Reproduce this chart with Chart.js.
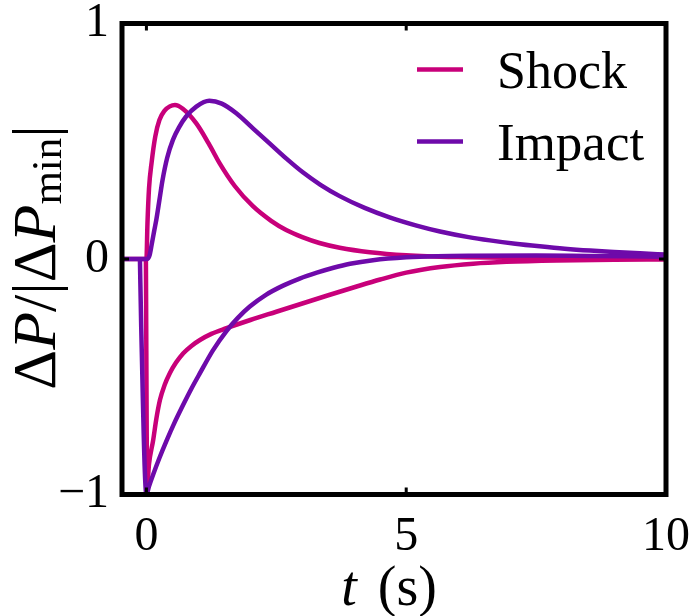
<!DOCTYPE html>
<html>
<head>
<meta charset="utf-8">
<script src="https://cdn.jsdelivr.net/npm/chart.js@4.4.0/dist/chart.umd.min.js"></script>
<style>
html,body{margin:0;padding:0;background:#ffffff;}
#wrap{width:692px;height:616px;}
</style>
</head>
<body>
<div id="wrap"><canvas id="c" width="692" height="616"></canvas></div>
<script>
// ---- data ----
const seriesNames = ["Shock", "Impact"];
const xTicks = [0, 5, 10];
const xTickLabels = ["0", "5", "10"];
const yTicks = [-1, 0, 1];
const yTickLabels = ["\u22121", "0", "1"];

const shockRiseT = [-0.47, 0.0, 0.02, 0.05, 0.1, 0.17, 0.25, 0.35, 0.45, 0.55, 0.7, 0.96, 1.2, 1.41, 1.7, 2.05, 2.4, 2.69, 3.0, 3.33, 3.72, 4.3, 5.0, 6.0, 7.0, 8.0, 9.0, 10.0];
const shockRiseV = [0, 0, 0.15, 0.30, 0.41, 0.52, 0.59, 0.63, 0.648, 0.654, 0.638, 0.576, 0.49, 0.406, 0.31, 0.224, 0.162, 0.123, 0.093, 0.068, 0.048, 0.029, 0.016, 0.008, 0.005, 0.004, 0.003, 0.003];

const shockDropT = [-0.01, 0.015, 0.05, 0.13, 0.19, 0.26, 0.35, 0.45, 0.57, 0.71, 0.86, 1.03, 1.25, 1.54, 2.0, 2.5, 3.0, 3.5, 4.0, 4.5, 5.0, 5.65, 6.29, 6.93, 7.9, 9.0, 10.0];
const shockDropV = [0, -0.96, -0.87, -0.769, -0.68, -0.599, -0.535, -0.485, -0.44, -0.40, -0.37, -0.344, -0.318, -0.294, -0.259, -0.224, -0.189, -0.154, -0.12, -0.087, -0.058, -0.034, -0.02, -0.012, -0.006, -0.003, -0.002];

const impactRiseT = [-0.47, 0.02, 0.06, 0.1, 0.15, 0.19, 0.25, 0.31, 0.4, 0.51, 0.63, 0.76, 0.96, 1.21, 1.45, 1.73, 2.05, 2.37, 2.7, 3.01, 3.35, 3.72, 4.2, 4.68, 5.2, 5.65, 6.2, 6.61, 7.1, 7.57, 8.05, 8.54, 9.0, 9.5, 10.0];
const impactRiseV = [0, 0, 0.015, 0.06, 0.12, 0.166, 0.25, 0.335, 0.43, 0.506, 0.56, 0.604, 0.647, 0.672, 0.66, 0.619, 0.555, 0.491, 0.425, 0.368, 0.315, 0.267, 0.217, 0.177, 0.142, 0.117, 0.093, 0.079, 0.065, 0.054, 0.044, 0.036, 0.03, 0.024, 0.019];

const impactDropT = [-0.125, -0.1, 0.0, 0.05, 0.13, 0.25, 0.39, 0.53, 0.71, 0.86, 1.03, 1.28, 1.54, 1.76, 1.99, 2.3, 2.63, 2.95, 3.28, 3.6, 3.92, 4.36, 5.0, 5.6, 6.29, 7.5, 8.5, 10.0];
const impactDropV = [0, -0.29, -1.0, -0.965, -0.915, -0.845, -0.77, -0.70, -0.618, -0.553, -0.485, -0.388, -0.306, -0.25, -0.202, -0.152, -0.113, -0.083, -0.058, -0.037, -0.02, -0.005, 0.007, 0.012, 0.014, 0.015, 0.013, 0.01];

// ---- styles ----
const colShock = "#c8007a";
const colImpact = "#6e0aaa";
const SERIF = '"Liberation Serif", "Times New Roman", serif';

function pts(t, v) { return t.map((tt, i) => ({ x: tt, y: v[i] })); }

const datasets = [
  { label: seriesNames[0], data: pts(shockRiseT, shockRiseV), borderColor: colShock, order: 2 },
  { label: seriesNames[0], data: pts(shockDropT, shockDropV), borderColor: colShock, order: 3 },
  { label: seriesNames[1], data: pts(impactRiseT, impactRiseV), borderColor: colImpact, order: 0 },
  { label: seriesNames[1], data: pts(impactDropT, impactDropV), borderColor: colImpact, order: 1 }
];

const decor = {
  id: 'decor',
  afterDatasetsDraw(chart) {
    const { ctx, chartArea: a, scales: { x, y } } = chart;
    ctx.save();
    ctx.strokeStyle = '#000';
    ctx.fillStyle = '#000';
    // inward ticks
    ctx.lineWidth = 3;
    ctx.beginPath();
    xTicks.forEach(v => {
      const px = x.getPixelForValue(v);
      ctx.moveTo(px, a.bottom); ctx.lineTo(px, a.bottom - 7);
      ctx.moveTo(px, a.top); ctx.lineTo(px, a.top + 7);
    });
    yTicks.forEach(v => {
      const py = y.getPixelForValue(v);
      ctx.moveTo(a.left, py); ctx.lineTo(a.left + 7, py);
      ctx.moveTo(a.right, py); ctx.lineTo(a.right - 7, py);
    });
    ctx.stroke();
    // frame
    ctx.lineWidth = 5;
    ctx.lineJoin = 'miter';
    ctx.strokeRect(a.left, a.top, a.right - a.left, a.bottom - a.top);

    // legend
    const legColors = [colShock, colImpact];
    const legRowsY = [a.top + 46, a.top + 118];
    const legFont = ['52px ' + SERIF, '53px ' + SERIF];
    ctx.lineWidth = 4.5;
    ctx.lineCap = 'butt';
    seriesNames.forEach((name, i) => {
      const ly = legRowsY[i];
      ctx.strokeStyle = legColors[i];
      ctx.beginPath();
      ctx.moveTo(a.right - 249, ly);
      ctx.lineTo(a.right - 203, ly);
      ctx.stroke();
      ctx.fillStyle = '#000';
      ctx.font = legFont[i];
      ctx.textAlign = 'left';
      ctx.textBaseline = 'alphabetic';
      ctx.fillText(name, a.right - 169, ly + 18);
    });

    // x title: t (s)
    ctx.fillStyle = '#000';
    ctx.textBaseline = 'alphabetic';
    ctx.textAlign = 'left';
    const xParts = [['t', 'italic 56px ' + SERIF, 7], ['(s)', '56px ' + SERIF, 0]];
    let tw = 0;
    xParts.forEach(p => { ctx.font = p[1]; tw += ctx.measureText(p[0]).width + p[2]; });
    ctx.font = '56px ' + SERIF;
    const sp = ctx.measureText(' ').width;
    tw += sp;
    let cx = (a.left + a.right) / 2 - 5 - tw / 2;
    ctx.font = xParts[0][1]; ctx.fillText(xParts[0][0], cx, 605);
    cx += ctx.measureText(xParts[0][0]).width + xParts[0][2] + sp;
    ctx.font = xParts[1][1]; ctx.fillText(xParts[1][0], cx, 605);

    // y title: ΔP/|ΔP_min|
    ctx.save();
    ctx.translate(55, 257.5);
    ctx.rotate(-Math.PI / 2);
    const big = '62px ' + SERIF, bigIt = 'italic 62px ' + SERIF, small = '43px ' + SERIF;
    const yParts = [['\u0394', big, 0], ['P', bigIt, 0], ['/', big, 0], ['|', big, 0], ['\u0394', big, 0], ['P', bigIt, 0], ['min', small, 6], ['|', big, 0]];
    let yw = 0;
    yParts.forEach(p => { ctx.font = p[1]; yw += ctx.measureText(p[0]).width; });
    let sx = -yw / 2;
    yParts.forEach(p => { ctx.font = p[1]; ctx.fillText(p[0], sx, p[2]); sx += ctx.measureText(p[0]).width; });
    ctx.restore();

    ctx.restore();
  }
};

new Chart(document.getElementById('c'), {
  type: 'line',
  data: { datasets },
  options: {
    responsive: false,
    animation: false,
    devicePixelRatio: 1,
    layout: { padding: { left: 0, top: 23.5, right: 26, bottom: 0 } },
    plugins: { legend: { display: false }, tooltip: { enabled: false } },
    elements: {
      point: { radius: 0, hoverRadius: 0 },
      line: { borderWidth: 4.5, cubicInterpolationMode: 'monotone', borderJoinStyle: 'round', borderCapStyle: 'butt', fill: false }
    },
    scales: {
      x: {
        type: 'linear', min: -0.47, max: 10,
        grid: { display: false, drawTicks: false },
        border: { display: false },
        afterBuildTicks: s => { s.ticks = xTicks.map(v => ({ value: v })); },
        afterFit: s => { s.height = 616 - 494.5; s.paddingLeft = 0; s.paddingRight = 0; },
        ticks: {
          padding: 14, maxRotation: 0, autoSkip: false, color: '#000',
          font: { family: SERIF, size: 48 },
          callback: v => { const i = xTicks.indexOf(v); return i >= 0 ? xTickLabels[i] : ''; }
        }
      },
      y: {
        type: 'linear', min: -1, max: 1,
        grid: { display: false, drawTicks: false },
        border: { display: false },
        afterBuildTicks: s => { s.ticks = yTicks.map(v => ({ value: v })); },
        afterFit: s => { s.width = 122; s.paddingTop = 0; s.paddingBottom = 0; },
        ticks: {
          padding: 13, autoSkip: false, color: '#000',
          font: { family: SERIF, size: 48 },
          callback: v => { const i = yTicks.indexOf(v); return i >= 0 ? yTickLabels[i] : ''; }
        }
      }
    }
  },
  plugins: [decor]
});
</script>
</body>
</html>
